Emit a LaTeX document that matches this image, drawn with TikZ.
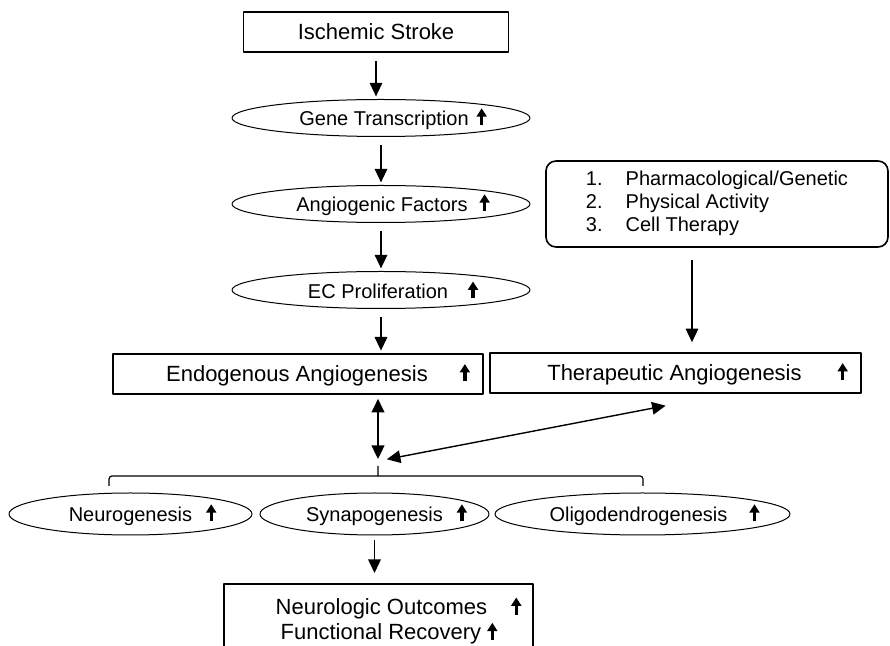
\documentclass[tikz,border=0pt]{standalone}
\usepackage{fontspec}
\setmainfont{Liberation Sans}
\usetikzlibrary{arrows.meta,shapes.geometric}
% small bold "increase" arrow used inside the labels
\newcommand{\upar}{\tikz[baseline=0pt]\draw[line width=1.7pt,-{Triangle[length=4.2pt,width=5pt]}] (0pt,0pt)--(0pt,8.5pt);}
\newcommand{\ovaltext}[1]{\makebox[0pt]{\hspace*{12pt}#1}}

\begin{document}
\begin{tikzpicture}[x=0.5pt, y=-0.5pt, line join=round, >={Triangle[length=6.8pt,width=6.3pt]},
	box/.style={draw, line width=.8pt, inner sep=0pt, minimum height=20pt, font=\fontsize{11}{13}\selectfont},
	oval/.style={draw, ellipse, line width=.5pt, inner sep=0pt, minimum height=18.5pt, font=\fontsize{10}{12}\selectfont},
	link/.style={->, line width=.7pt, shorten <=4pt, shorten >=1.3pt}]
	\useasboundingbox (0,0) rectangle (890,646);
	\clip (0,0) rectangle (890,646);
	% main chain
	\node[box, minimum width=132.5pt] (stroke) at (376,32) {Ischemic Stroke};
	\node[oval, minimum width=149pt] (gene) at (381,118) {\ovaltext{Gene Transcription\hspace{4pt}\upar}};
	\node[oval, minimum width=149pt] (angio) at (381,204) {\ovaltext{Angiogenic Factors\hspace{6pt}\upar}};
	\node[oval, minimum width=149pt] (ec) at (381,290) {\ovaltext{EC Proliferation\hspace{10pt}\upar}};
	\node[box, minimum width=185pt, execute at begin node=\hspace*{20pt}] (endo) at (298,374) {Endogenous Angiogenesis\hspace{16pt}\upar};
	\node[box, minimum width=185.5pt, execute at begin node=\hspace*{22pt}] (thera) at (675.5,373) {Therapeutic Angiogenesis\hspace{18pt}\upar};
	\node[draw, rounded corners=5pt, line width=.8pt, minimum width=171pt, minimum height=43pt, font=\fontsize{10}{11.5}\selectfont] (list) at (717,204)
		{\begin{tabular}{@{}l@{\hspace{11.5pt}}l@{}}1.&Pharmacological/Genetic\\2.&Physical Activity\\3.&Cell Therapy\end{tabular}};
	\draw[link] (stroke.south) -- (stroke.south |- gene.north);
	\draw[link] (gene.south) -- (angio.north);
	\draw[link] (angio.south) -- (ec.north);
	\draw[link] (ec.south) -- (ec.south |- endo.north);
	\draw[link, shorten <=6pt, shorten >=5pt] ([xshift=-12.5pt]list.south) -- ([xshift=-12.5pt]list.south |- thera.north);
	% meeting point and brace
	\coordinate (hub) at (378,461);
	\draw[<->, line width=1.2pt, shorten <=2pt, shorten >=1pt] (hub |- endo.south) -- (hub);
	\draw[<->, line width=.7pt, shorten <=4.5pt, shorten >=5pt] (hub) -- ([yshift=-5pt]thera.south);
	\draw[line width=.6pt, rounded corners=1.5pt] (109,486) |- (643,476) -- (643,486) (378,476) -- (378,466);
	% outcomes
	\node[oval, minimum width=121.5pt, minimum height=21pt] (neuro) at (130.5,514) {\ovaltext{Neurogenesis\hspace{7pt}\upar}};
	\node[oval, minimum width=114.5pt, minimum height=21pt] (synapo) at (374.5,514) {\ovaltext{Synapogenesis\hspace{7pt}\upar}};
	\node[oval, minimum width=147.5pt, minimum height=21pt] (oligo) at (642.5,514) {\ovaltext{Oligodendrogenesis\hspace{11pt}\upar}};
	\node[draw, line width=.8pt, anchor=north, minimum width=154.5pt, inner xsep=0pt, inner ysep=6pt, align=center, text depth=25pt, font=\fontsize{11}{11}\selectfont] (outcome) at (378.5,583)
		{\hspace*{20pt}Neurologic Outcomes\hspace{12pt}\upar\\\hspace*{10.5pt}Functional Recovery \upar};
	\draw[link, shorten <=2.5pt, shorten >=5pt] (synapo.south) -- (synapo.south |- outcome.north);
\end{tikzpicture}
\end{document}
